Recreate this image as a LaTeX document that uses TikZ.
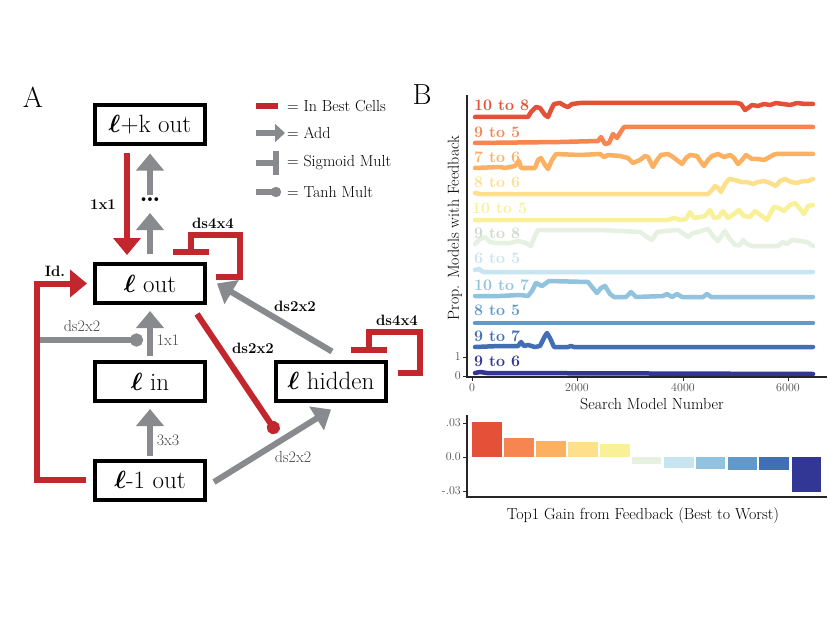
\documentclass[tikz,border=0pt]{standalone}
\usepackage{amsmath,bm}
\usetikzlibrary{arrows.meta}
\definecolor{cred}{RGB}{193,39,45}
\definecolor{cgray}{RGB}{137,138,142}
\definecolor{ltxt}{RGB}{70,70,70}
\definecolor{tick}{RGB}{77,77,77}
\definecolor{c1}{RGB}{229,80,57}
\definecolor{c2}{RGB}{246,133,81}
\definecolor{c3}{RGB}{252,176,98}
\definecolor{c4}{RGB}{254,224,140}
\definecolor{c5}{RGB}{248,241,152}
\definecolor{c6}{RGB}{230,241,226}
\definecolor{c6t}{RGB}{205,218,205}
\definecolor{c7}{RGB}{198,229,240}
\definecolor{c8}{RGB}{145,194,222}
\definecolor{c9}{RGB}{98,153,201}
\definecolor{c10}{RGB}{66,110,180}
\definecolor{c11}{RGB}{50,54,149}
\tikzset{
  cellbox/.style={draw=black, line width=4pt, minimum width=110pt, minimum height=39pt,
    inner sep=0pt, fill=white, font=\fontsize{25}{27}\selectfont},
  redc/.style={draw=cred, line width=6pt},
  grayc/.style={draw=cgray, line width=6pt},
  addtip/.style={-{Triangle[width=27pt,length=17pt]}},
  tanhtip/.style={-{Circle[length=13pt]}},
  sigtip/.style={-{Bar[width=36pt]}},
  lblb/.style={font=\fontsize{15}{16}\selectfont\bfseries, text=black, inner sep=0pt},
  lblg/.style={font=\fontsize{16}{17}\selectfont, text=ltxt, inner sep=0pt},
  legtxt/.style={font=\fontsize{16}{17}\selectfont, anchor=west, inner sep=0pt},
  series/.style={line width=4.5pt, line join=round, line cap=round},
  serlab/.style={font=\fontsize{16}{17}\selectfont\bfseries, anchor=west, inner sep=0pt},
  ticklab/.style={font=\fontsize{12}{13}\selectfont, text=tick, inner sep=0pt},
  axtitle/.style={font=\fontsize{16}{17}\selectfont, inner sep=0pt},
  axline/.style={draw=black!85, line width=2pt},
  tickmark/.style={draw=black!85, line width=1pt},
  panel/.style={font=\fontsize{29}{30}\selectfont, inner sep=0pt}
}
\begin{document}
\begin{tikzpicture}[x=1pt,y=-1pt]
\fill[white] (0,0) rectangle (830,623);
\useasboundingbox (0,0) rectangle (830,623);

% ---------------- Panel A ----------------
\node[panel] (pa) at (33,97) {A};

\node[cellbox] (lk) at (150,125) {$\bm{\ell}$+k out};
\node[cellbox] (lout) at (150,283.5) {$\bm{\ell}$ out};
\node[cellbox] (lin) at (150,381.5) {$\bm{\ell}$ in};
\node[cellbox] (lm1) at (150,480) {$\bm{\ell}$-1 out};
\node[cellbox] (lhid) at (331,381) {$\bm{\ell}$ hidden};

\node[font=\fontsize{26}{26}\selectfont\bfseries, inner sep=0pt] (dots) at (150,200) {\ldots};

% gray connectors
\draw[grayc,addtip] ([yshift=8pt]lout.north) -- ([yshift=-13pt]dots.center);
\draw[grayc,addtip] ([yshift=5pt]dots.center) -- ([yshift=-7pt]lk.south);
\coordinate (lft) at (37,340);
\coordinate (tanhend) at (143,340);
\draw[grayc,tanhtip] (lft) -- (tanhend);
\draw[grayc,addtip] ([yshift=4pt]lin.north) -- ([yshift=-6pt]lout.south);
\draw[grayc,addtip] ([yshift=3pt]lm1.north) -- ([yshift=-6pt]lin.south);
\draw[grayc,addtip] ([xshift=1pt,yshift=8pt]lhid.north) -- ([xshift=10pt]lout.east);
\draw[grayc,addtip] ([xshift=7pt,yshift=-2pt]lm1.east) -- ([yshift=-7pt]lhid.south);

% red connectors
\draw[redc,addtip] ([xshift=-23pt,yshift=-7pt]lk.south) -- ([xshift=-23pt,yshift=7pt]lout.north);
\draw[redc,addtip] ([xshift=-7pt]lm1.west) -| (lft |- lout.west) -- ([xshift=-6pt]lout.west);
\coordinate (rtend) at (277,433);
\draw[redc,tanhtip] ([xshift=-10pt,yshift=-9pt]lout.south east) -- (rtend);
\draw[redc,sigtip] ([xshift=9pt,yshift=6.5pt]lout.east) -- ++(24,0) -- ++(0,-42) -- ++(-49,0) -- ++(0,20);
\draw[redc,sigtip] ([xshift=10pt,yshift=8pt]lhid.east) -- ++(22,0) -- ++(0,-41) -- ++(-51,0) -- ++(0,21);

% labels
\node[lblb] at (103,205) {1x1};
\node[lblb] at (213,223) {ds4x4};
\node[lblb] at (55,271) {Id.};
\node[lblg] at (82,326) {ds2x2};
\node[lblg] at (168,340) {1x1};
\node[lblg] at (168,440) {3x3};
\node[lblb] at (253,348) {ds2x2};
\node[lblb] at (295,306) {ds2x2};
\node[lblg] at (293,457) {ds2x2};
\node[lblb] at (397,320) {ds4x4};

% legend
\node[legtxt] (lg1) at (287,106) {= In Best Cells};
\node[legtxt] (lg2) at (287,133) {= Add};
\node[legtxt] (lg3) at (287,163) {= Sigmoid Mult};
\node[legtxt] (lg4) at (287,192) {= Tanh Mult};
\draw[redc] ([xshift=-31pt]lg1.west) -- ([xshift=-9pt]lg1.west);
\draw[grayc,-{Triangle[width=18pt,length=10pt]}] ([xshift=-31pt]lg2.west) -- ([xshift=-2pt]lg2.west);
\draw[grayc,-{Bar[width=24pt]}] ([xshift=-31pt]lg3.west) -- ([xshift=-8pt]lg3.west);
\draw[grayc,-{Circle[length=10pt]}] ([xshift=-31pt]lg4.west) -- ([xshift=-6pt]lg4.west);

% ---------------- Panel B ----------------
\node[panel] (pb) at (422,95) {B};

% series
\draw[series,c1] (475,117) -- (528,117) -- (531,112) -- (536,107) -- (540,108) -- (545,115) -- (548,117) -- (551,110) -- (554,104) -- (560,103) -- (565,106) -- (568,107) -- (572,104) -- (580,103) -- (737,103) -- (741,104) -- (745,110) -- (748,108) -- (752,105) -- (758,106) -- (764,104) -- (770,105) -- (776,103) -- (783,104) -- (790,105) -- (797,103) -- (805,104) -- (813,104);
\draw[series,c2] (475,143) -- (560,142) -- (598,141) -- (601,137) -- (605,144) -- (609,143) -- (613,134) -- (617,138) -- (620,133) -- (624,127) -- (813,127);
\draw[series,c3] (475,168) -- (500,167) -- (505,168) -- (515,166) -- (519,161) -- (521,168) -- (535,168) -- (538,160) -- (541,158) -- (545,165) -- (548,169) -- (552,160) -- (556,154) -- (580,155) -- (600,154) -- (604,157) -- (608,155) -- (620,156) -- (628,158) -- (633,163) -- (640,160) -- (645,156) -- (648,157) -- (653,167) -- (657,160) -- (661,155) -- (668,154) -- (673,157) -- (678,161) -- (682,164) -- (686,158) -- (690,155) -- (697,156) -- (701,162) -- (704,166) -- (708,160) -- (712,156) -- (718,154) -- (724,157) -- (730,155) -- (734,158) -- (738,164) -- (742,160) -- (746,155) -- (752,159) -- (758,159) -- (764,160) -- (768,158) -- (773,155) -- (776,154) -- (813,154);
\draw[series,c4] (475,193) -- (480,194) -- (708,194) -- (712,190) -- (715,186) -- (718,188) -- (721,192) -- (725,184) -- (729,179) -- (735,180) -- (741,182) -- (747,182) -- (753,184) -- (758,182) -- (764,181) -- (770,183) -- (776,186) -- (780,181) -- (785,179) -- (791,182) -- (797,183) -- (803,181) -- (808,181) -- (813,179);
\draw[series,c5] (475,220) -- (668,220) -- (674,218) -- (680,220) -- (686,219) -- (690,212) -- (694,218) -- (700,217) -- (705,216) -- (710,210) -- (714,218) -- (719,217) -- (723,211) -- (728,218) -- (734,214) -- (739,210) -- (744,216) -- (750,217) -- (755,211) -- (762,216) -- (767,220) -- (771,212) -- (774,207) -- (779,208) -- (784,211) -- (790,205) -- (795,203) -- (800,209) -- (804,214) -- (808,206) -- (813,205);
\draw[series,c6] (475,244) -- (480,239) -- (485,237) -- (490,242) -- (496,243) -- (510,243) -- (518,241) -- (526,243) -- (531,246) -- (534,238) -- (538,230) -- (600,230) -- (620,231) -- (640,232) -- (647,237) -- (652,240) -- (657,232) -- (665,231) -- (678,230) -- (684,234) -- (688,237) -- (693,233) -- (698,232) -- (704,230) -- (708,229) -- (713,236) -- (718,241) -- (722,235) -- (725,231) -- (729,238) -- (735,245) -- (740,245) -- (743,240) -- (747,244) -- (752,246) -- (778,246) -- (783,242) -- (787,244) -- (792,240) -- (800,241) -- (807,242) -- (813,246);
\draw[series,c7] (475,270) -- (479,269) -- (483,272) -- (813,272);
\draw[series,c8] (475,296) -- (500,296) -- (520,295) -- (528,296) -- (532,291) -- (536,283) -- (542,286) -- (549,281) -- (588,282) -- (592,287) -- (597,293) -- (601,288) -- (605,286) -- (610,294) -- (614,297) -- (626,297) -- (631,292) -- (636,297) -- (663,296) -- (667,294) -- (672,297) -- (677,294) -- (682,297) -- (703,297) -- (707,294) -- (711,297) -- (813,297);
\draw[series,c9] (475,323) -- (813,323);
\draw[series,c10] (475,347) -- (500,346) -- (518,346) -- (521,342) -- (524,346) -- (528,345) -- (535,347) -- (540,346) -- (545,336) -- (547,333) -- (550,338) -- (554,347) -- (568,347) -- (571,346) -- (574,347) -- (813,347);
\draw[series,c11] (475,373) -- (480,372) -- (487,373) -- (813,374);

% series labels
\node[serlab,text=c1] at (474,105) {10 to 8};
\node[serlab,text=c2] at (474,132) {9 to 5};
\node[serlab,text=c3] at (474,157) {7 to 6};
\node[serlab,text=c4] at (474,182) {8 to 6};
\node[serlab,text=c5] at (472,208) {10 to 5};
\node[serlab,text=c6t] at (474,233) {9 to 8};
\node[serlab,text=c7] at (474,258) {6 to 5};
\node[serlab,text=c8] at (474,285) {10 to 7};
\node[serlab,text=c9] at (474,310) {8 to 5};
\node[serlab,text=c10] at (474,336) {9 to 7};
\node[serlab,text=c11] at (474,361) {9 to 6};

% axes
\draw[axline] (467,95) -- (467,377) -- (827,377);
\foreach \x/\l in {472/0,577/2000,683/4000,788/6000}{
  \draw[tickmark] (\x,377) -- (\x,381);
  \node[ticklab] at (\x,388) {\l};
}
\foreach \y/\l in {357/1,376/0}{
  \draw[tickmark] (463,\y) -- (467,\y);
  \node[ticklab,anchor=east] at (461,\y) {\l};
}
\node[axtitle] at (652,404) {Search Model Number};
\node[axtitle,rotate=90] at (455,228) {Prop. Models with Feedback};

% bar chart
\fill[c1] (472,422) rectangle (502,457);
\fill[c2] (504,438) rectangle (534,457);
\fill[c3] (536,441) rectangle (566,457);
\fill[c4] (568,442) rectangle (598,457);
\fill[c5] (600,444) rectangle (630,457);
\fill[c6] (632,457) rectangle (661,464);
\fill[c7] (664,457) rectangle (694,468);
\fill[c8] (696,457) rectangle (725,469);
\fill[c9] (728,457) rectangle (757,470);
\fill[c10] (759,457) rectangle (789,470);
\fill[c11] (792,457) rectangle (821,492);
\draw[axline] (467,415) -- (467,497) -- (827,497);
\foreach \y/\l in {423/.03,457/0.0,491/-.03}{
  \draw[tickmark] (463,\y) -- (467,\y);
  \node[ticklab,anchor=east] at (461,\y) {\l};
}
\node[axtitle] at (643,516) {Top1 Gain from Feedback (Best to Worst)};
\end{tikzpicture}
\end{document}
